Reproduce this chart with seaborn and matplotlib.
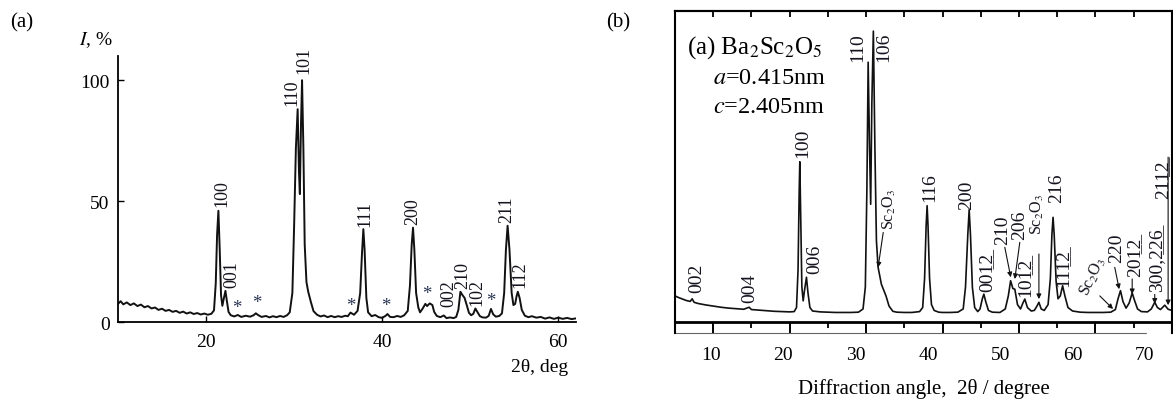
import numpy as np
import pandas as pd
import matplotlib
matplotlib.use("Agg")
import matplotlib.pyplot as plt
import matplotlib.transforms as mtrans
from matplotlib.ticker import MultipleLocator
import seaborn as sns

# ---------------- panel (a) data ----------------
a_two_theta = [10.0, 10.3, 10.6, 11.0, 11.4, 11.8, 12.2, 12.6, 13.0, 13.4, 13.8, 14.2, 14.6, 15.0,
               15.4, 15.8, 16.2, 16.6, 17.0, 17.4, 17.8, 18.2, 18.6, 19.0, 19.4, 19.8, 20.2, 20.6,
               20.9, 21.1, 21.25, 21.4, 21.55, 21.7, 21.85, 22.0, 22.2, 22.35, 22.55, 22.8, 23.2,
               23.6, 24.0, 24.5, 25.0, 25.4, 25.65, 25.9, 26.3, 26.8, 27.2, 27.6, 28.0, 28.4, 28.8,
               29.2, 29.5, 29.8, 30.0, 30.2, 30.4, 30.55, 30.65, 30.78, 30.9, 31.05, 31.2, 31.4,
               31.6, 31.9, 32.2, 32.6, 33.0, 33.4, 33.8, 34.2, 34.6, 35.0, 35.4, 35.8, 36.1, 36.4,
               36.8, 37.2, 37.5, 37.7, 37.86, 38.0, 38.2, 38.4, 38.8, 39.2, 39.6, 40.0, 40.4, 40.6,
               40.9, 41.3, 41.7, 42.1, 42.5, 42.9, 43.15, 43.35, 43.5, 43.65, 43.85, 44.1, 44.3,
               44.6, 44.9, 45.1, 45.4, 45.7, 45.9, 46.2, 46.6, 47.0, 47.3, 47.7, 48.1, 48.4, 48.65,
               48.88, 49.1, 49.35, 49.6, 49.85, 50.1, 50.35, 50.58, 50.8, 51.1, 51.4, 51.8, 52.1,
               52.35, 52.6, 52.9, 53.3, 53.6, 53.85, 54.05, 54.24, 54.45, 54.7, 54.9, 55.1, 55.25,
               55.4, 55.6, 55.85, 56.2, 56.6, 57.0, 57.5, 58.0, 58.5, 59.0, 59.5, 60.0, 60.5, 61.0,
               61.5, 62.0]
a_intensity = [7.5, 8.6, 7.3, 8.1, 7.0, 7.7, 6.6, 7.2, 6.1, 6.6, 5.6, 6.0, 5.0, 5.5,
               4.6, 5.0, 4.2, 4.6, 3.8, 4.3, 3.5, 4.0, 3.3, 3.7, 3.1, 3.5, 3.0, 3.4,
               4.8, 16, 36, 46, 30, 11, 6.7, 9.5, 12.9, 9.0, 4.2, 2.8, 2.3,
               2.9, 2.1, 2.6, 2.2, 2.8, 3.6, 2.9, 2.1, 2.5, 1.9, 2.4, 2.0, 2.5, 2.1,
               2.8, 4.0, 12, 40, 72, 88, 62, 52.9, 82, 100, 72, 32, 16.5,
               12.5, 8.3, 4.5, 3.0, 2.3, 2.7, 2.0, 2.5, 2.0, 2.4, 2.1, 2.6, 2.4, 3.9,
               3.0, 4.6, 12, 28, 38.4, 30, 10, 4.0, 2.4, 2.9, 2.0, 1.7, 2.6, 3.3,
               2.1, 2.0, 2.5, 2.1, 2.8, 4.6, 15, 32, 39, 30, 12, 6.0, 4.0,
               5.6, 7.5, 6.6, 7.7, 7.0, 4.2, 2.5, 2.0, 2.7, 1.6, 1.9, 1.6, 2.1, 5.0,
               12.5, 11.2, 10.0, 7.0, 3.8, 2.8, 3.4, 5.6, 4.2, 2.4, 1.9, 1.8, 2.6,
               5.4, 3.2, 2.2, 2.5, 3.6, 12, 30, 39.8, 30, 12, 7.0, 7.5, 10.5,
               12.5, 10, 5.0, 2.6, 2.0, 2.4, 1.8, 2.1, 1.4, 1.9, 1.3, 1.8, 1.3, 1.7,
               1.2, 1.5]

a_labels = ["100", "001", "110", "101", "111", "200", "002", "210", "102", "211", "112"]
a_label_x = [21.75, 22.9, 29.7, 31.1, 38.0, 43.5, 47.55, 49.2, 50.77, 54.1, 55.6]
a_label_y = [48, 14.3, 89.7, 103, 39.8, 40.5, 6.8, 13.9, 6.9, 41.2, 14.3]
a_star_x = [23.5, 25.7, 36.4, 40.4, 45.03, 52.35]
a_star_y = [6.0, 8.1, 6.7, 6.7, 11.6, 8.8]
a_xticks = [20, 40, 60]
a_yticks = [0, 50, 100]

# ---------------- panel (b) data ----------------
b_two_theta = [5.0, 5.5, 6.0, 6.5, 7.0, 7.25, 7.5, 8.0, 9.0, 10.0, 11.0, 12.0, 13.0, 14.0, 14.7,
               15.0, 16.0, 17.0, 18.0, 19.0, 20.0, 20.6, 20.9, 21.1, 21.25, 21.33, 21.45, 21.6,
               21.77, 21.95, 22.2, 22.4, 22.65, 23.0, 24.0, 25.0, 26.0, 27.0, 28.0, 29.0, 29.6,
               29.9, 30.1, 30.27, 30.45, 30.6, 30.75, 30.95, 31.15, 31.35, 31.57, 32.0, 32.6, 33.0,
               33.5, 34.0, 35.0, 36.0, 37.0, 37.4, 37.65, 37.85, 37.98, 38.1, 38.3, 38.55, 38.9,
               39.5, 40.0, 41.0, 42.0, 42.7, 43.0, 43.3, 43.48, 43.65, 43.9, 44.2, 44.6, 44.9,
               45.2, 45.4, 45.65, 46.0, 46.5, 47.5, 48.2, 48.6, 48.9, 49.2, 49.45, 49.8, 50.2,
               50.5, 50.76, 51.1, 51.6, 52.0, 52.35, 52.6, 52.9, 53.3, 53.8, 54.1, 54.3, 54.45,
               54.6, 54.85, 55.1, 55.4, 55.7, 56.0, 56.4, 57.0, 58.0, 59.0, 60.0, 61.0, 62.0,
               62.6, 62.95, 63.27, 63.6, 64.0, 64.4, 64.8, 65.1, 65.5, 66.0, 66.8, 67.3, 67.75,
               68.1, 68.5, 69.06, 69.5, 70.0]
b_intensity = [9.0, 8.4, 7.9, 7.4, 7.1, 8.0, 6.8, 6.4, 5.9, 5.5, 5.1, 4.8, 4.6, 4.4, 5.1,
               4.3, 4.1, 3.9, 3.7, 3.6, 3.5, 3.6, 5.0, 18, 45, 55.1, 35, 12,
               7.3, 11, 15.4, 10, 5.0, 3.8, 3.5, 3.4, 3.3, 3.3, 3.3, 3.4, 4.5,
               12, 45, 89.3, 60, 40.5, 75, 100, 60, 28, 18.8, 13, 9.0, 5.5,
               3.7, 3.4, 3.3, 3.3, 3.6, 5.0, 15, 33, 40, 33, 15, 6.0, 4.0,
               3.4, 3.3, 3.3, 3.4, 4.5, 12, 30, 38.6, 30, 12, 5.0, 3.6, 4.5,
               8.0, 9.6, 7.0, 4.0, 3.4, 3.3, 4.5, 9.0, 14.2, 11.5, 11.3, 6.0, 4.5,
               6.5, 7.9, 5.0, 3.8, 4.0, 5.5, 6.8, 4.5, 4.0, 6.0, 15, 30, 36,
               30, 14, 8.0, 9.0, 12.5, 9.0, 5.0, 3.8, 3.4, 3.3, 3.3, 3.3, 3.4,
               4.3, 8.0, 10.8, 7.0, 4.8, 6.5, 10.0, 7.5, 4.5, 3.6, 3.5, 4.5, 6.8,
               5.0, 4.3, 5.8, 4.4, 4.0]


def ul(s):
    return "".join(c + "\u0332" for c in s)


b_labels = ["002", "004", "100", "006", "110", "106", "116", "200",
            "00" + ul("12"), "10" + ul("12"), "216", "11" + ul("12")]
b_label_x = [7.8, 14.8, 21.7, 23.3, 28.85, 32.3, 38.3, 43.1, 45.75, 50.76, 54.98, 55.77]
b_label_y = [10.2, 7.0, 56.6, 16.8, 89.7, 89.7, 41.7, 38.8, 10.8, 9.0, 41.1, 12.5]

b_arrow_labels = ["210", "206", "220", "20" + ul("12"), "300," + ul("226"), "21" + ul("12")]
b_arrow_text_x = [47.8, 50.1, 62.75, 65.14, 67.97, 68.83]
b_arrow_text_y = [26.8, 28.5, 20.5, 15.9, 10.8, 42.8]
b_arrow_from_x = [48.14, 50.1, 62.52, 64.8, 67.75, 69.5]
b_arrow_from_y = [25.7, 27.4, 18.8, 14.8, 9.5, 56.7]
b_arrow_to_x = [48.92, 49.45, 63.1, 64.8, 67.75, 69.5]
b_arrow_to_y = [15.4, 14.8, 11.3, 9.6, 6.3, 5.8]

sc_text_x = [33.1, 52.4, 59.7]
sc_text_y = [32.0, 30.2, 15.9]
sc_rotation = [90, 90, 65]
sc_from_x = [32.24, 52.6, 60.56]
sc_from_y = [30.8, 23.4, 9.0]
sc_to_x = [31.57, 52.6, 62.3]
sc_to_y = [18.8, 7.9, 4.5]

b_xticks = [10, 20, 30, 40, 50, 60, 70]

# ---------------- styling ----------------
sns.set_theme(style="ticks")
plt.rcParams["font.family"] = ["Liberation Serif", "DejaVu Serif"]
plt.rcParams["mathtext.fontset"] = "stix"
plt.rcParams["axes.edgecolor"] = "black"
plt.rcParams["xtick.color"] = "black"
plt.rcParams["ytick.color"] = "black"
plt.rcParams["text.color"] = "black"
plt.rcParams["axes.labelcolor"] = "black"

ink = "#111111"
lab_col = "#15151f"
star_col = "#2a3552"

fig = plt.figure(figsize=(11.73, 4.02), dpi=100)
axA = fig.add_axes([0.1006, 0.1965, 0.3904, 0.6617])
axB = fig.add_axes([0.5754, 0.169, 0.4237, 0.801])

# ---------------- panel (a) ----------------
dfa = pd.DataFrame({"two_theta": a_two_theta, "I": a_intensity})
sns.lineplot(data=dfa, x="two_theta", y="I", ax=axA, color=ink, lw=1.4,
             sort=False, estimator=None)
axA.set_xlim(10, 62)
axA.set_ylim(0, 110)
axA.set_xticks(a_xticks)
axA.set_yticks(a_yticks)
axA.set_xlabel("")
axA.set_ylabel("")
for s in ["top", "right"]:
    axA.spines[s].set_visible(False)
for s in ["left", "bottom"]:
    axA.spines[s].set_linewidth(1.3)
axA.tick_params(direction="in", length=4.5, width=1.0, labelsize=14, pad=6)
axA.tick_params(axis="x", pad=8)

for t, x, y in zip(a_labels, a_label_x, a_label_y):
    axA.text(x, y, t, rotation=90, ha="center", va="bottom", fontsize=13, color=lab_col)
for x, y in zip(a_star_x, a_star_y):
    axA.text(x, y, "*", ha="center", va="center", fontsize=13.5, color=star_col)

fig.text(0.0085, 0.943, "(a)", ha="left", va="center", fontsize=15)
fig.text(0.0673, 0.900, "$I$, %", ha="left", va="center", fontsize=14)
fig.text(0.4842, 0.087, "2θ, deg", ha="right", va="center", fontsize=14)

# ---------------- panel (b) ----------------
dfb = pd.DataFrame({"two_theta": b_two_theta, "I": b_intensity})
sns.lineplot(data=dfb, x="two_theta", y="I", ax=axB, color=ink, lw=1.2,
             sort=False, estimator=None)
axB.set_xlim(5, 70)
axB.set_ylim(-3.78, 106.9)
axB.set_yticks([])
axB.set_ylabel("")
for s in ["top", "left", "right"]:
    axB.spines[s].set_linewidth(1.5)
axB.spines["bottom"].set_position(("data", 0))
axB.spines["bottom"].set_linewidth(2.0)
axB.set_xticks(b_xticks)
axB.xaxis.set_minor_locator(MultipleLocator(5))
axB.tick_params(axis="x", which="major", direction="out", length=8, width=1.4,
                labelsize=14, pad=9, top=False)
axB.tick_params(axis="x", which="minor", direction="out", length=4, width=1.3, top=False)
axB.plot([0, 0.948], [0, 0], transform=axB.transAxes, color="#666666", lw=0.8,
         clip_on=False)
# scanned source has tick labels drifting slightly left of their ticks
for lbl, v in zip(axB.get_xticklabels(), b_xticks):
    dx = -0.415 * (v - 5) / 100.0
    lbl.set_transform(lbl.get_transform() + mtrans.ScaledTranslation(dx, 0, fig.dpi_scale_trans))
axB.set_xlabel("Diffraction angle,  2θ / degree", fontsize=15, labelpad=11)

sec = axB.secondary_xaxis("top")
sec.xaxis.set_major_locator(MultipleLocator(5))
sec.tick_params(direction="in", length=4, width=1.3, labeltop=False)
sec.spines["top"].set_linewidth(1.5)

for t, x, y in zip(b_labels, b_label_x, b_label_y):
    axB.text(x, y, t, rotation=90, ha="center", va="bottom", fontsize=14, color=lab_col)

arrow_kw = dict(arrowstyle="-|>", lw=0.8, color=ink, mutation_scale=7,
                shrinkA=0, shrinkB=0)
for t, tx, ty, fx, fy, ex, ey in zip(b_arrow_labels, b_arrow_text_x, b_arrow_text_y,
                                     b_arrow_from_x, b_arrow_from_y,
                                     b_arrow_to_x, b_arrow_to_y):
    axB.text(tx, ty, t, rotation=90, ha="center", va="bottom", fontsize=14, color=lab_col)
    axB.annotate("", xy=(ex, ey), xytext=(fx, fy), arrowprops=arrow_kw)

for tx, ty, rot, fx, fy, ex, ey in zip(sc_text_x, sc_text_y, sc_rotation,
                                       sc_from_x, sc_from_y, sc_to_x, sc_to_y):
    axB.text(tx, ty, "Sc$_2$O$_3$", rotation=rot, ha="center",
             va="bottom" if rot == 90 else "center", fontsize=11.5, color=lab_col)
    axB.annotate("", xy=(ex, ey), xytext=(fx, fy), arrowprops=arrow_kw)

axB.text(0.024, 0.891, "(a) Ba$_2$Sc$_2$O$_5$", transform=axB.transAxes,
         ha="left", va="center", fontsize=18)
axB.text(0.0765, 0.795, "$a$=0.415nm", transform=axB.transAxes,
         ha="left", va="center", fontsize=17.5)
axB.text(0.0765, 0.705, "$c$=2.405nm", transform=axB.transAxes,
         ha="left", va="center", fontsize=17.5)

fig.text(0.517, 0.943, "(b)", ha="left", va="center", fontsize=15)

fig.savefig("out.png", dpi=100)
